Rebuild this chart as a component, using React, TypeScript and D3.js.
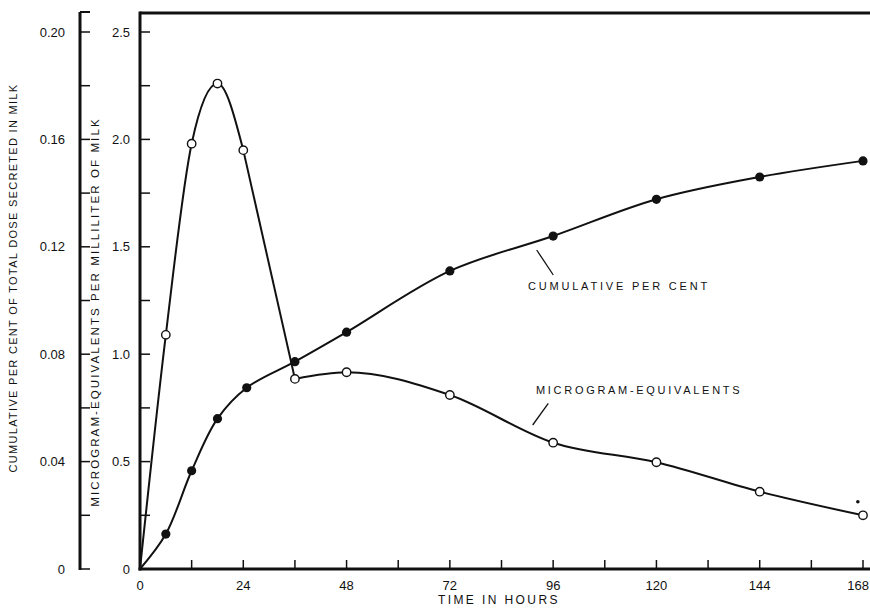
import { useEffect, useRef } from "react";
import * as d3 from "d3";

// hours after dosing
const hours = [6, 12, 18, 24, 36, 48, 72, 96, 120, 144, 168];
// microgram-equivalents per ml of milk (open circles)
const microgramEq = [1.09, 1.98, 2.26, 1.95, 0.885, 0.916, 0.81, 0.588, 0.497, 0.36, 0.25];
// cumulative per cent of dose (filled circles)
const cumHours = [6, 12, 18, 24.8, 36, 48, 72, 96, 120, 144, 168];
const cumulativePct = [0.013, 0.0366, 0.056, 0.0675, 0.0772, 0.0882, 0.111, 0.124, 0.1377, 0.146, 0.152];
// both curves start at the origin
const origin = { t: 0, v: 0 };
// small stray mark near the last point
const strayMark = [{ t: 166.8, v: 0.313 }];

const xTicks = [0, 12, 24, 36, 48, 60, 72, 84, 96, 108, 120, 132, 144, 156, 168];
const xTickLabels = ["0", "24", "48", "72", "96", "120", "144", "168"];
const microTicks = [0, 0.25, 0.5, 0.75, 1, 1.25, 1.5, 1.75, 2, 2.25, 2.5];
const microTickLabels = ["0", "0.5", "1.0", "1.5", "2.0", "2.5"];
const cumTicks = [0, 0.02, 0.04, 0.06, 0.08, 0.1, 0.12, 0.14, 0.16, 0.18, 0.2];
const cumTickLabels = ["0", "0.04", "0.08", "0.12", "0.16", "0.20"];

const INK = "#111";
const FONT = "'Liberation Sans', Arial, sans-serif";

type Pt = { t: number; v: number };

function App() {
  const ref = useRef<SVGSVGElement>(null);

  useEffect(() => {
    document.body.style.margin = "0";
    if (!ref.current) return;
    const svg = d3.select(ref.current);
    svg.selectAll("*").remove();

    const width = 870;
    const x = d3.scaleLinear().domain([0, 168]).range([140, 863]);
    const yMicro = d3.scaleLinear().domain([0, 2.5]).range([569, 32]);
    const yCum = d3.scaleLinear().domain([0, 0.2]).range([569, 32]);
    const top = 13;
    const axisX = x(0);
    const baseY = yMicro(0);
    const outerX = 80;

    svg.append("rect").attr("width", width).attr("height", 608).attr("fill", "white");

    // frame: top line, inner y axis, bottom axis
    svg.append("line").attr("x1", axisX).attr("x2", width).attr("y1", top).attr("y2", top)
      .attr("stroke", INK).attr("stroke-width", 3);
    svg.append("line").attr("x1", axisX).attr("x2", axisX).attr("y1", top - 1.5).attr("y2", baseY + 1.5)
      .attr("stroke", INK).attr("stroke-width", 3);
    svg.append("line").attr("x1", axisX - 1.5).attr("x2", width).attr("y1", baseY).attr("y2", baseY)
      .attr("stroke", INK).attr("stroke-width", 3);

    // x ticks
    svg.append("g").selectAll("line").data(xTicks).enter().append("line")
      .attr("x1", (d) => x(d)).attr("x2", (d) => x(d))
      .attr("y1", baseY).attr("y2", baseY - 9)
      .attr("stroke", INK).attr("stroke-width", 1.5);
    svg.append("g").selectAll("text").data(xTickLabels).enter().append("text")
      .attr("x", (d) => (+d === 168 ? 869 : x(+d)))
      .attr("y", 590)
      .attr("text-anchor", (d) => (+d === 168 ? "end" : "middle"))
      .style("font-family", FONT).style("font-size", "13px").style("fill", INK)
      .text((d) => d);
    svg.append("text").attr("x", 438).attr("y", 604)
      .style("font-family", FONT).style("font-size", "12px").style("letter-spacing", "2.4px").style("fill", INK)
      .text("TIME IN HOURS");

    // inner y axis ticks
    svg.append("g").selectAll("line").data(microTicks).enter().append("line")
      .attr("x1", axisX).attr("x2", axisX + 10)
      .attr("y1", (d) => yMicro(d)).attr("y2", (d) => yMicro(d))
      .attr("stroke", INK).attr("stroke-width", 1.5);
    svg.append("g").selectAll("text").data(microTickLabels).enter().append("text")
      .attr("x", 130).attr("y", (d) => yMicro(+d) + 4.5)
      .attr("text-anchor", "end")
      .style("font-family", FONT).style("font-size", "13px").style("fill", INK)
      .text((d) => d);
    svg.append("text")
      .attr("transform", `translate(99, ${(105 + 519) / 2}) rotate(-90)`)
      .attr("text-anchor", "middle")
      .style("font-family", FONT).style("font-size", "11.5px").style("letter-spacing", "2.1px").style("fill", INK)
      .text("MICROGRAM-EQUIVALENTS PER MILLILITER OF MILK");

    // outer y axis
    svg.append("line").attr("x1", outerX).attr("x2", outerX).attr("y1", 12).attr("y2", baseY + 1)
      .attr("stroke", INK).attr("stroke-width", 3);
    svg.append("line").attr("x1", outerX).attr("x2", outerX + 10).attr("y1", 12).attr("y2", 12)
      .attr("stroke", INK).attr("stroke-width", 2);
    svg.append("g").selectAll("line").data(cumTicks).enter().append("line")
      .attr("x1", outerX).attr("x2", outerX + 10)
      .attr("y1", (d) => yCum(d)).attr("y2", (d) => yCum(d))
      .attr("stroke", INK).attr("stroke-width", 1.5);
    svg.append("g").selectAll("text").data(cumTickLabels).enter().append("text")
      .attr("x", 65).attr("y", (d) => yCum(+d) + 4.5)
      .attr("text-anchor", "end")
      .style("font-family", FONT).style("font-size", "13px").style("fill", INK)
      .text((d) => d);
    svg.append("text")
      .attr("transform", `translate(17, ${(81 + 475) / 2}) rotate(-90)`)
      .attr("text-anchor", "middle")
      .style("font-family", FONT).style("font-size", "11px").style("letter-spacing", "1.3px").style("fill", INK)
      .text("CUMULATIVE PER CENT OF TOTAL DOSE SECRETED IN MILK");

    // curves
    const microPts: Pt[] = [origin, ...hours.map((t, i) => ({ t, v: microgramEq[i] }))];
    const cumPts: Pt[] = [origin, ...cumHours.map((t, i) => ({ t, v: cumulativePct[i] }))];

    const microSmooth = d3.line<Pt>()
      .x((d) => x(d.t)).y((d) => yMicro(d.v)).curve(d3.curveMonotoneX);
    const microStraight = d3.line<Pt>()
      .x((d) => x(d.t)).y((d) => yMicro(d.v));
    const cumLine = d3.line<Pt>()
      .x((d) => x(d.t)).y((d) => yCum(d.v)).curve(d3.curveCatmullRom.alpha(0.5));

    // the 24 h -> 36 h fall is drawn as a straight stroke, as in the original
    const i24 = microPts.findIndex((d) => d.t === 24);
    const i36 = microPts.findIndex((d) => d.t === 36);
    const microSegments = [
      { d: microSmooth(microPts.slice(0, i24 + 1)) },
      { d: microStraight(microPts.slice(i24, i36 + 1)) },
      { d: microSmooth(microPts.slice(i36)) },
    ];

    svg.append("path").attr("d", cumLine(cumPts)).attr("fill", "none")
      .attr("stroke", INK).attr("stroke-width", 2);
    svg.append("g").selectAll("path").data(microSegments).enter().append("path")
      .attr("d", (s) => s.d).attr("fill", "none")
      .attr("stroke", INK).attr("stroke-width", 2).attr("stroke-linejoin", "round");

    // markers
    svg.append("g").selectAll("circle").data(cumPts.slice(1)).enter().append("circle")
      .attr("cx", (d) => x(d.t)).attr("cy", (d) => yCum(d.v)).attr("r", 4.6)
      .attr("fill", INK);
    svg.append("g").selectAll("circle").data(microPts.slice(1)).enter().append("circle")
      .attr("cx", (d) => x(d.t)).attr("cy", (d) => yMicro(d.v)).attr("r", 4.2)
      .attr("fill", "white").attr("stroke", INK).attr("stroke-width", 1.4);
    svg.append("g").selectAll("circle").data(strayMark).enter().append("circle")
      .attr("cx", (d) => x(d.t)).attr("cy", (d) => yMicro(d.v)).attr("r", 1.8)
      .attr("fill", INK);

    // curve labels with leader lines
    svg.append("line").attr("x1", 536.7).attr("y1", 250).attr("x2", 553.3).attr("y2", 275)
      .attr("stroke", INK).attr("stroke-width", 1.3);
    svg.append("text").attr("x", 528).attr("y", 289.5)
      .style("font-family", FONT).style("font-size", "11px").style("letter-spacing", "2.8px").style("fill", INK)
      .text("CUMULATIVE PER CENT");
    svg.append("line").attr("x1", 548.3).attr("y1", 403.3).attr("x2", 532.7).attr("y2", 425)
      .attr("stroke", INK).attr("stroke-width", 1.3);
    svg.append("text").attr("x", 536).attr("y", 393.5)
      .style("font-family", FONT).style("font-size", "11px").style("letter-spacing", "2.7px").style("fill", INK)
      .text("MICROGRAM-EQUIVALENTS");
  }, []);

  return (
    <svg
      ref={ref}
      width={870}
      height={608}
      viewBox="0 0 870 608"
      style={{ display: "block", position: "absolute", left: 0, top: 0 }}
    />
  );
}

export default App;
